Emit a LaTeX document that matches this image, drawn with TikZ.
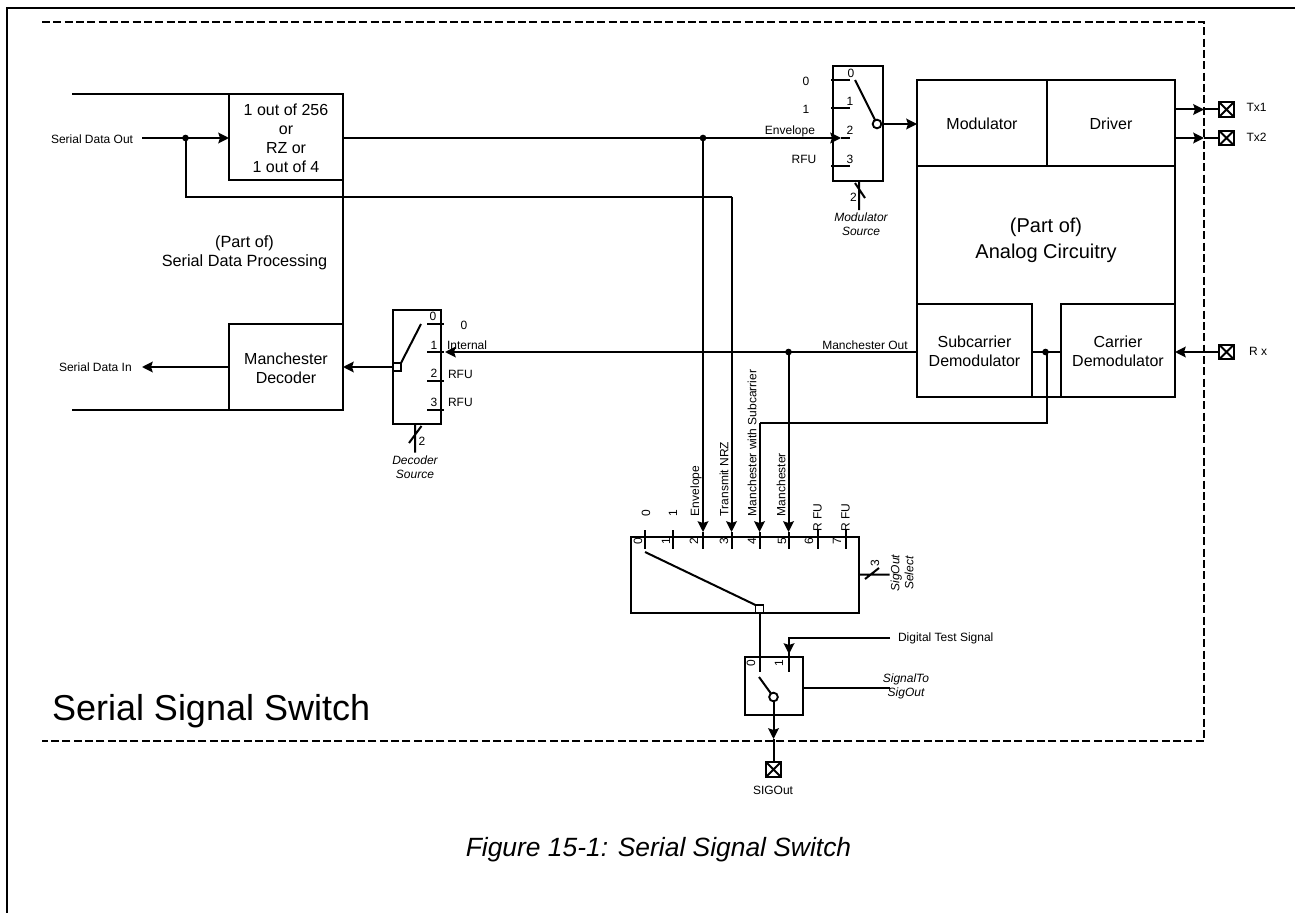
\documentclass[tikz,border=0pt]{standalone}
\usepackage{fontspec}
\setmainfont{Liberation Sans}
\usetikzlibrary{arrows.meta}
\newcommand{\dnlines}[1]{\raisebox{-2.25pt}[\height][\depth]{\begin{tabular}{@{}c@{}}#1\end{tabular}}}
\tikzset{
 every node/.style={outer sep=0pt},
 ln/.style={line width=1.5pt},
 tick/.style={line width=1.5pt},
 box/.style={draw,line width=1.7pt,inner sep=0pt,anchor=north west,align=center},
 open box/.style={inner sep=0pt,anchor=north west,align=center},
 arr/.style={line width=1.5pt,-{Stealth[length=8pt,width=8pt,inset=1.2pt]}},
 dashbox/.style={line width=1.4pt,dash pattern=on 6pt off 2.5pt},
 big/.style={font=\fontsize{12}{14.4}\selectfont},
 bigger/.style={font=\fontsize{15}{19.5}\selectfont,align=center},
 small/.style={font=\fontsize{9}{10.5}\selectfont,align=center,inner sep=0pt},
 smalli/.style={font=\itshape\fontsize{9}{10.5}\selectfont,align=center,inner sep=0pt},
 dot/.style={circle,fill=black,inner sep=0pt,minimum size=5pt},
 pad/.style={draw,line width=1.6pt,fill=white,minimum size=11pt,inner sep=0pt,path picture={\draw[line width=1.4pt] (path picture bounding box.south west)--(path picture bounding box.north east) (path picture bounding box.north west)--(path picture bounding box.south east);}},
 pivc/.style={circle,draw,fill=white,line width=1.4pt,inner sep=0pt,minimum size=6.5pt},
 pivs/.style={draw,fill=white,line width=1.3pt,inner sep=0pt,minimum size=6pt},
}
\begin{document}
\begin{tikzpicture}[x=0.75pt,y=-0.75pt]
\useasboundingbox (0,0) rectangle (1295,913);
% frame
\coordinate (f1) at (7,913); \coordinate (f2) at (7,8); \coordinate (f3) at (1295,8);
\draw[line width=1.6pt] (f1)--(f2)--(f3);
% dashed boundary
\coordinate (d1) at (42,22); \coordinate (d2) at (1204,22); \coordinate (d3) at (1204,741); \coordinate (d4) at (42,741);
\draw[dashbox] (d1)--(d2)--(d3)--(d4);
% serial data processing
\coordinate (r1) at (72,94); \coordinate (r2) at (72,410);
\node[box,minimum width=85.5pt,minimum height=64.5pt,big] (A) at (229,94) {\dnlines{1 out of 256\\or\\RZ or\\1 out of 4}};
\node[box,minimum width=85.5pt,minimum height=64.5pt,big] (M) at (229,324) {\dnlines{Manchester\\Decoder}};
\draw[ln] (r1)--(A.north west) (r2)--(M.south west) (A.south east)--(M.north east);
\node[font=\fontsize{12.2}{14.4}\selectfont,align=center,inner sep=0pt] (sdp) at (244.5,253) {(Part of)\\Serial Data Processing};
\node[small,anchor=west] (sdo) at (51,139) {Serial Data Out};
\node[small,anchor=west] (sdi) at (59,367) {Serial Data In};
\coordinate (sdoe) at (142,138);
\coordinate (sdie) at (142,367);
\node[dot] (j1) at (185.5,138) {};
\draw[arr] (sdoe)--(A.west|-j1);
\draw[arr] (M.west)--(sdie);
% modulator switch
\node[box,minimum width=37.5pt,minimum height=86pt] (MS) at (833,66) {};
\coordinate (m0a) at (831,80.5); \coordinate (m0b) at (850,80.5);
\coordinate (m1a) at (831,108.5); \coordinate (m1b) at (850,108.5);
\coordinate (m2a) at (841,138); \coordinate (m2b) at (850,138);
\coordinate (m3a) at (831,166.5); \coordinate (m3b) at (850,166.5);
\draw[tick] (m0a)--(m0b) (m1a)--(m1b) (m3a)--(m3b) (m2a)--(m2b);
\node[small] (l0) at (851,73) {0};
\node[small] (l1) at (850,101) {1};
\node[small] (l2) at (850,130) {2};
\node[small] (l3) at (850,159) {3};
\node[small] (o0) at (806,81) {0};
\node[small] (o1) at (806,109) {1};
\node[small,anchor=east] (oe) at (815,131) {Envelope};
\node[small] (orfu) at (804,159) {RFU};
\node[pivc] (pm) at (877,124) {};
\coordinate (mswt) at (855,80);
\draw[ln] (mswt)--(pm);
\coordinate (mbot) at (859,210); \coordinate (mtop) at (859,181);
\coordinate (mtk1) at (855,183); \coordinate (mtk2) at (865,198);
\draw[ln] (mtop)--(mbot) (mtk1)--(mtk2);
\node[small,fill=white,inner sep=0.3pt] (ml2) at (853.5,197) {2};
\node[smalli] (msrc) at (861,224) {Modulator\\Source};
% analog
\node[box,minimum width=97.5pt,minimum height=64.5pt,big] (Mod) at (917,80) {\dnlines{Modulator}};
\node[box,minimum width=96pt,minimum height=64.5pt,big] (Drv) at (1047,80) {\dnlines{Driver}};
\node[open box,minimum width=193.5pt,minimum height=111pt,bigger] (An) at (917,166) {(Part of)\\Analog Circuitry};
\node[box,minimum width=86.25pt,minimum height=69.75pt,big] (Sub) at (917,304) {\dnlines{Subcarrier\\Demodulator}};
\node[box,minimum width=85.5pt,minimum height=69.75pt,big] (Car) at (1061,304) {\dnlines{Carrier\\Demodulator}};
\draw[ln] (Sub.south east)--(Car.south west);
\draw[ln] (Mod.south west)--(Sub.north west) (Drv.south east)--(Car.north east);
\draw[arr] (pm)--(Mod.west|-pm);
% pads
\node[pad] (tx1) at (1226.5,109.5) {};
\node[pad] (tx2) at (1226.5,138) {};
\node[pad] (rx) at (1226.5,352) {};
\node[pad] (sig) at (773.5,769.5) {};
\node[small] (ltx1) at (1256.5,107) {Tx1};
\node[small] (ltx2) at (1256.5,137) {Tx2};
\node[small] (lrx) at (1258,351) {R x};
\node[small] (lsig) at (773,790) {SIGOut};
\coordinate (b1) at (1204,109.5); \coordinate (b2) at (1204,138);
\draw[arr] (Drv.east|-b1)--(b1);
\draw[ln] (b1)--(tx1);
\draw[arr] (Drv.east|-b2)--(b2);
\draw[ln] (b2)--(tx2);
\draw[arr] (rx)--(Car.east|-rx);
% decoder switch
\node[box,minimum width=36pt,minimum height=85.5pt] (DS) at (393,310) {};
\coordinate (t0a) at (427,324); \coordinate (t0b) at (444,324);
\coordinate (t1a) at (427,352); \coordinate (t1b) at (444,352);
\coordinate (t2a) at (427,380.5); \coordinate (t2b) at (444,380.5);
\coordinate (t3a) at (427,410); \coordinate (t3b) at (444,410);
\draw[tick] (t0a)--(t0b) (t1a)--(t1b) (t2a)--(t2b) (t3a)--(t3b);
\node[small] (d0) at (433,316) {0};
\node[small] (d1l) at (434,345) {1};
\node[small] (d2l) at (434,373) {2};
\node[small] (d3l) at (434,402) {3};
\node[small] (o0d) at (464,325) {0};
\node[small,anchor=west] (oint) at (447,345) {Internal};
\node[small,anchor=west] (orf2) at (448,374) {RFU};
\node[small,anchor=west] (orf3) at (448,402) {RFU};
\node[pivs] (pd) at (397,367) {};
\coordinate (dswt) at (421,324);
\draw[ln] (dswt)--(pd.north east);
\draw[arr] (pd.west)--(M.east|-pd);
\coordinate (dtop) at (415,424); \coordinate (dbot) at (415,452.5);
\coordinate (dtk1) at (409,443); \coordinate (dtk2) at (421.5,426);
\draw[ln] (dtop)--(dbot) (dtk1)--(dtk2);
\node[small] (dl2) at (422,441) {2};
\node[smalli] (dsrc) at (415,467.5) {Decoder\\Source};
% manchester out
\coordinate (ta) at (445,352);
\draw[arr] (Sub.west|-ta)--(ta);
\node[small] (lmo) at (865,345) {Manchester Out};
% bottom selector
\node[box,minimum width=171pt,minimum height=57pt] (SS) at (631,537) {};
\foreach \n/\x in {a/645,b/673,c/703,d/731.5,e/759.5,f/788.5,g/817.5,h/845.5}{
 \coordinate (u\n) at (\x,530); \coordinate (v\n) at (\x,549);
 \coordinate (w\n) at (\x,532);
}
\draw[tick] (ua)--(va) (ub)--(vb) (ug)--(vg) (uh)--(vh);
\draw[tick] (wc)--(vc) (wd)--(vd) (we)--(ve) (wf)--(vf);
\foreach \n/\x/\t in {na/638/0,nb/666/1,nc/694/2,nd/724/3,ne/752/4,nf/782/5,ng/809/6,nh/837/7}{
 \node[small,rotate=90] (\n) at (\x,541) {\t};
}
\node[small,rotate=90] (oa) at (646,513) {0};
\node[small,rotate=90] (ob) at (673,513) {1};
\node[small,rotate=90,anchor=west] (oc) at (696,516) {Envelope};
\node[small,rotate=90,anchor=west] (od) at (724,516) {Transmit NRZ};
\node[small,rotate=90,anchor=west] (oe2) at (752,516) {Manchester with Subcarrier};
\node[small,rotate=90,anchor=west] (of) at (781,516) {Manchester};
\node[small,rotate=90] (og) at (817.5,517.5) {R FU};
\node[small,rotate=90] (oh) at (845.5,517.5) {R FU};
% envelope and feeders
\node[dot] (j2) at (703,138) {};
\node[dot] (j3) at (788.5,352) {};
\node[dot] (j4) at (1045.5,352) {};
\coordinate (e0) at (841,138);
\draw[ln] (A.east|-j2)--(j2);
\draw[arr] (j2)--(e0);
\draw[arr] (j2)--(wc);
\coordinate (q1) at (185.5,196.5); \coordinate (q2) at (731.5,196.5);
\draw[ln] (j1)--(q1)--(q2);
\draw[arr] (q2)--(wd);
\coordinate (s0) at (1047,352); \coordinate (s1) at (1047,422.5); \coordinate (s2) at (759.5,422.5);
\draw[ln] (s0)--(s1)--(s2);
\draw[arr] (s2)--(we);
\draw[arr] (j3)--(wf);
\draw[ln] (Sub.east|-j4)--(Car.west|-j4);
% selector output
\node[pivs] (ps) at (759.5,609) {};
\coordinate (psw) at (645,552);
\draw[ln] (psw)--(ps.north west);
\coordinate (sel1) at (859,574.5); \coordinate (sel2) at (889.5,574.5);
\coordinate (sel3) at (865,579); \coordinate (sel4) at (879,568);
\draw[ln] (sel1)--(sel2) (sel3)--(sel4);
\node[small,rotate=90] (s3) at (875,563) {3};
\node[smalli,rotate=90] (ssel) at (902,573) {SigOut\\Select};
% output switch
\node[box,minimum width=43.5pt,minimum height=43.5pt] (OS) at (745,657) {};
\coordinate (z0) at (759.5,671.5);
\draw[ln] (ps.south)--(z0);
\node[small,rotate=90] (z0l) at (751,663) {0};
\node[small,rotate=90] (z1l) at (779,663) {1};
\coordinate (y1) at (789,638); \coordinate (y2) at (890,638); \coordinate (y3) at (789,654); \coordinate (y4) at (789,671.5);
\draw[ln] (y2)--(y1)--(y3)--(y4);
\draw[arr] (y1)--(y3);
\node[small,anchor=west] (dts) at (898,638) {Digital Test Signal};
\node[pivc] (po) at (773.5,697) {};
\coordinate (osw) at (759,677);
\draw[ln] (osw)--(po);
\coordinate (sl) at (890,688);
\draw[ln] (OS.east|-sl)--(sl);
\node[smalli] (sso) at (906,686.5) {SignalTo\\SigOut};
\coordinate (x1) at (773.5,739);
\draw[arr] (po)--(x1);
\draw[ln] (x1)--(sig);
% titles
\node[anchor=west,inner sep=0pt,font=\fontsize{27}{30}\selectfont] (tt) at (52,711) {Serial Signal Switch};
\node[inner sep=0pt,font=\itshape\fontsize{19.8}{22}\selectfont] (cap) at (658.5,850) {Figure 15-1: Serial Signal Switch};
\end{tikzpicture}
\end{document}
